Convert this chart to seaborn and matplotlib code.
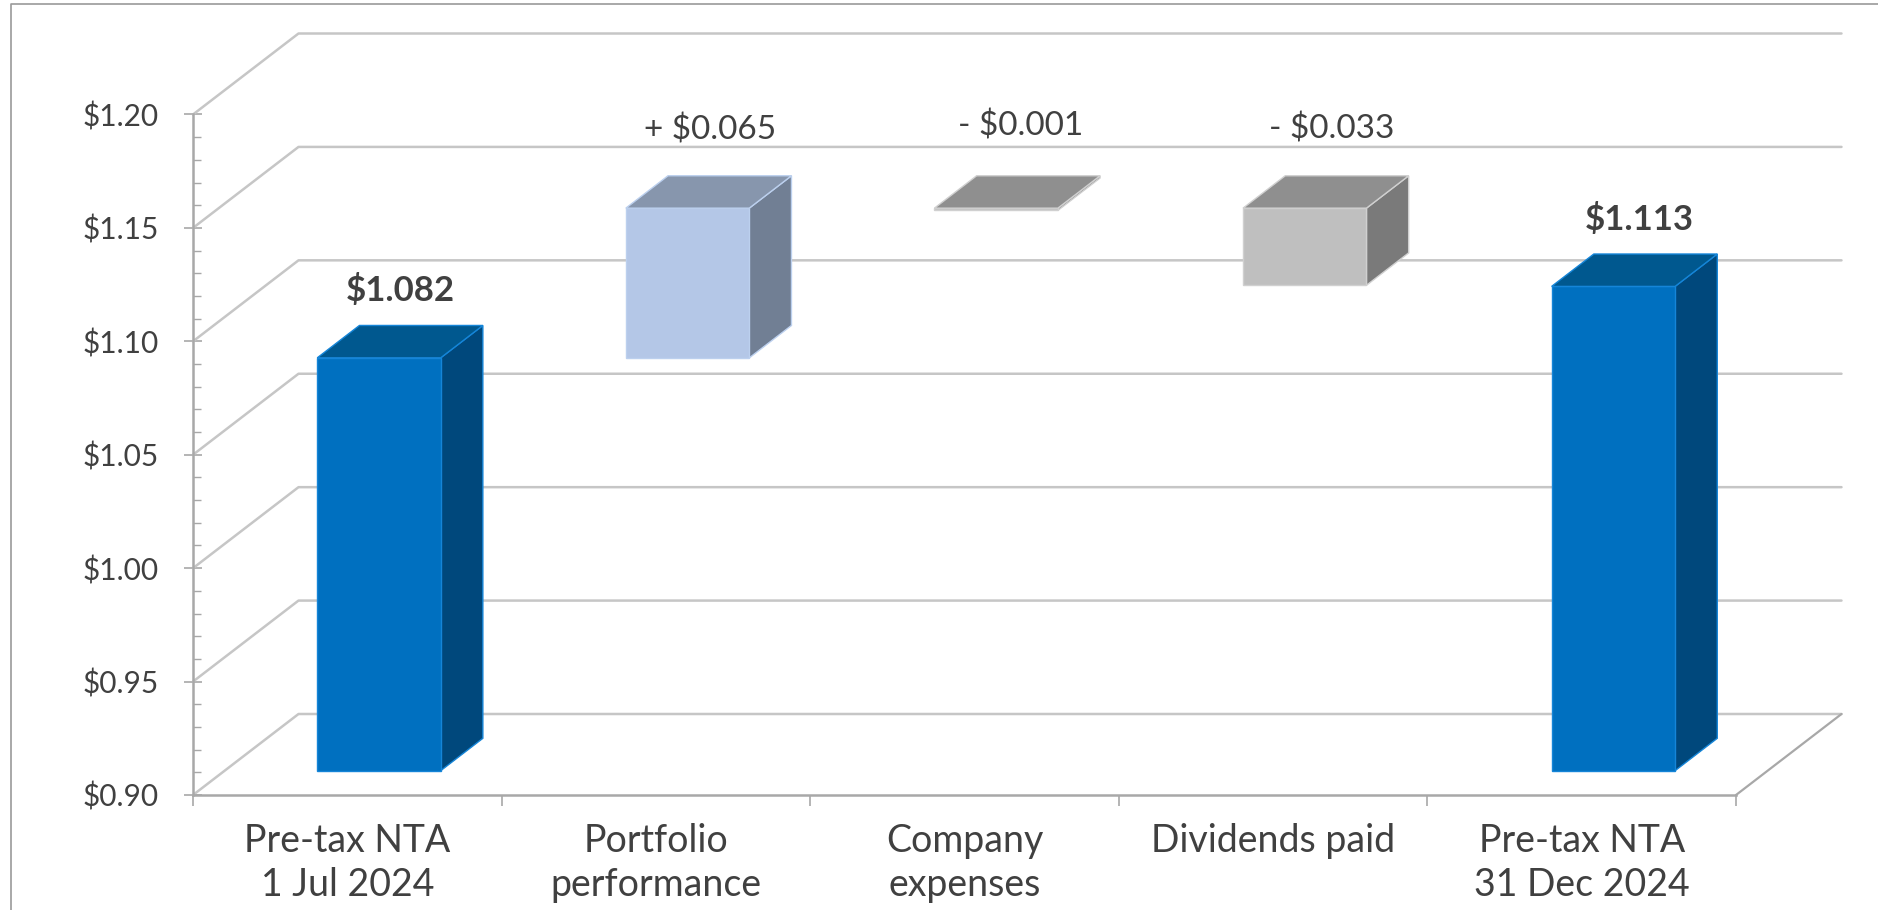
import matplotlib
matplotlib.use("Agg")
import matplotlib.pyplot as plt
from matplotlib.lines import Line2D
from matplotlib.patches import Polygon
from matplotlib.ticker import MultipleLocator, FixedLocator, FuncFormatter
from matplotlib.transforms import Affine2D
import numpy as np
import pandas as pd
import seaborn as sns

# ---- data -----------------------------------------------------------------
categories = ["Pre-tax NTA\n1 Jul 2024", "Portfolio\nperformance", "Company\nexpenses",
              "Dividends paid", "Pre-tax NTA\n31 Dec 2024"]
bar_bottoms = [0.90, 1.082, 1.147, 1.114, 0.90]
bar_tops = [1.082, 1.148, 1.148, 1.148, 1.1135]
value_labels = ["$1.082", "+ $0.065", "- $0.001", "- $0.033", "$1.113"]
label_bold = [True, False, False, False, True]

# ---- style ----------------------------------------------------------------
front_cols = ["#0070C0", "#B4C7E7", "#BFBFBF", "#BFBFBF", "#0070C0"]
top_cols = ["#00588F", "#8796AD", "#8F8F8F", "#8F8F8F", "#00588F"]
side_cols = ["#00487C", "#717F94", "#7A7A7A", "#7A7A7A", "#00487C"]
edge_cols = ["#1585D8", "#BCD0EE", "#D0D0D0", "#D0D0D0", "#1585D8"]
label_dx = [0, 1, 3, 6, 5]     # px offset from top-face centre
label_dy = [51, 62, 66, 63, 51]
label_size = [25, 24, 24, 24, 25]
W, H = 1878, 910
AX_L, AX_R, AX_T, AX_B = 193, 1736, 114.5, 795
GRID = "#C6C6C6"
AXIS = "#A8A8A8"
TXT = "#404040"
AXFONT = "Lato"
LBFONT = "Lato"

sns.set_theme(style="white")
plt.rcParams["font.family"] = ["Lato", "DejaVu Sans"]

fig = plt.figure(figsize=(W / 100, H / 100), dpi=100, facecolor="white")
ax = fig.add_axes([AX_L / W, 1 - AX_B / H, (AX_R - AX_L) / W, (AX_B - AX_T) / H])
ax.patch.set_alpha(0)

df = pd.DataFrame({"category": categories,
                   "height": np.array(bar_tops) - np.array(bar_bottoms)})
sns.barplot(data=df, x="category", y="height", width=0.4, color=front_cols[0],
            errorbar=None, ax=ax, zorder=5, linewidth=0, saturation=1)
ax.set_xlim(-0.5, 4.5)
ax.set_ylim(0.90, 1.20)
ax.set_xlabel("")
ax.set_ylabel("")

# Oblique depth of the fake-3D box, in data units
DX = 105.5 / ((AX_R - AX_L) / 5)
DY = 81 / ((AX_B - AX_T) / 0.30)
D0, D1 = 0.3, 0.7   # bars occupy this slice of the depth


def gridline(xs, ys, **kw):
    ax.add_line(Line2D(xs, ys, clip_on=False, **kw))


# back wall and left-wall lines
x0, x1 = ax.get_xlim()
for v in np.arange(0.90, 1.2001, 0.05):
    gridline([x0, x0 + DX, x1 + DX], [v, v + DY, v + DY], color=GRID, lw=1.8, zorder=1)
gridline([x1, x1 + DX], [0.90, 0.90 + DY], color=AXIS, lw=1.6, zorder=1)

# bars: seaborn's front faces moved forward in depth, plus side and top faces
shift = Affine2D().translate(DX * D0, DY * D0) + ax.transData
front_patches = list(ax.patches)
for i, patch in enumerate(front_patches):
    patch.set_y(bar_bottoms[i])
    patch.set_facecolor(front_cols[i])
    patch.set_edgecolor(edge_cols[i])
    patch.set_linewidth(1.0)
    patch.set_transform(shift)
    xl, xr = patch.get_x(), patch.get_x() + patch.get_width()
    lo, hi = bar_bottoms[i], bar_tops[i]
    d = D1 - D0
    top = [(xl, hi), (xr, hi), (xr + DX * d, hi + DY * d), (xl + DX * d, hi + DY * d)]
    side = [(xr, lo), (xr + DX * d, lo + DY * d), (xr + DX * d, hi + DY * d), (xr, hi)]
    ax.add_patch(Polygon(side, closed=True, fc=side_cols[i], ec=edge_cols[i], lw=1.0,
                         transform=shift, zorder=4, clip_on=False))
    ax.add_patch(Polygon(top, closed=True, fc=top_cols[i], ec=edge_cols[i], lw=1.0,
                         transform=shift, zorder=6, clip_on=False))
    cx = (xl + xr) / 2 + DX * (D0 + d / 2)
    cy = hi + DY * (D0 + d / 2)
    ax.annotate(value_labels[i], xy=(cx, cy),
                xytext=(label_dx[i] * 0.72, label_dy[i] * 0.72), textcoords="offset points",
                ha="center", va="center", fontsize=label_size[i], color=TXT, family=LBFONT,
                fontweight="bold" if label_bold[i] else "normal", zorder=8,
                annotation_clip=False)

# axes
for s in ["top", "right"]:
    ax.spines[s].set_visible(False)
for s in ["left", "bottom"]:
    ax.spines[s].set_color(AXIS)
    ax.spines[s].set_linewidth(1.8)
    ax.spines[s].set_zorder(3)

ax.yaxis.set_major_locator(MultipleLocator(0.05))
ax.yaxis.set_minor_locator(MultipleLocator(0.01))
ax.yaxis.set_major_formatter(FuncFormatter(lambda v, _: f"${v:.2f}"))
ax.tick_params(axis="y", which="major", direction="inout", length=13, width=1.2, color=AXIS,
               left=True, pad=18, labelsize=21.5, labelcolor=TXT)
ax.tick_params(axis="y", which="minor", direction="in", length=6, width=1.0, color=AXIS, left=True)
ax.xaxis.set_minor_locator(FixedLocator(np.arange(-0.5, 4.6, 1)))
ax.tick_params(axis="x", which="major", length=0, pad=20, labelsize=27, labelcolor=TXT)
ax.tick_params(axis="x", which="minor", direction="out", length=8, width=1.2, color=AXIS, bottom=True)
for t in ax.get_xticklabels():
    t.set_linespacing(1.28)
    t.set_family(AXFONT)
for t in ax.get_yticklabels():
    t.set_family(AXFONT)

# outer chart frame (left and top edges only fall inside the crop)
fig.add_artist(Line2D([11 / W, 11 / W, 1], [0, 1 - 4 / H, 1 - 4 / H],
                      transform=fig.transFigure, color="#9A9A9A", lw=1.2))

fig.savefig("out.png", dpi=100, facecolor="white")
